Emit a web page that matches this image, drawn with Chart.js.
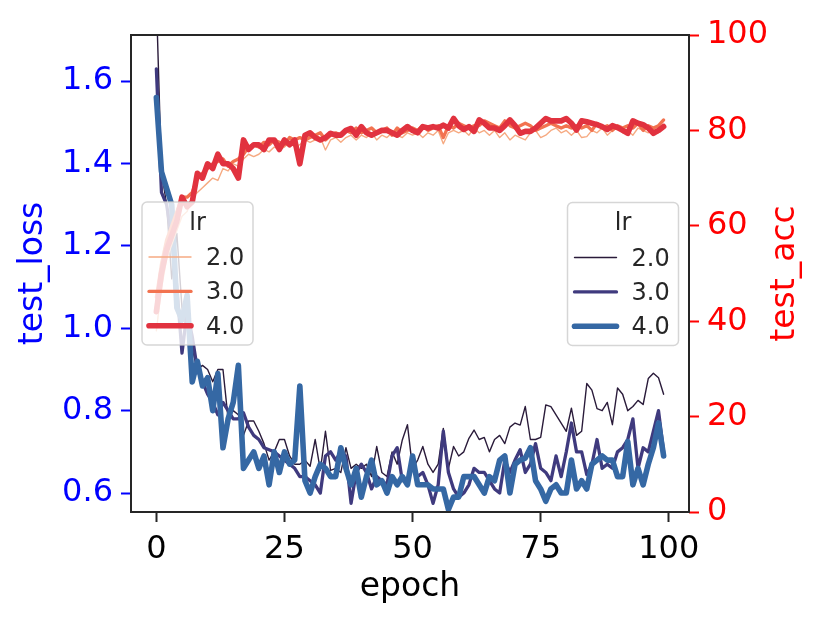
<!DOCTYPE html>
<html><head><meta charset="utf-8">
<script src="https://cdn.jsdelivr.net/npm/chart.js@4.4.0/dist/chart.umd.min.js"></script>
<style>html,body{margin:0;padding:0;background:#fff}canvas{display:block}</style>
</head><body>
<canvas id="c" width="830" height="623"></canvas>
<script>
const epochs = [0,1,2,3,4,5,6,7,8,9,10,11,12,13,14,15,16,17,18,19,20,21,22,23,24,25,26,27,28,29,30,31,32,33,34,35,36,37,38,39,40,41,42,43,44,45,46,47,48,49,50,51,52,53,54,55,56,57,58,59,60,61,62,63,64,65,66,67,68,69,70,71,72,73,74,75,76,77,78,79,80,81,82,83,84,85,86,87,88,89,90,91,92,93,94,95,96,97,98,99];
const lrLevels = ['2.0', '3.0', '4.0'];

const loss_lr2 = [1.80,1.38,1.30,1.12,1.23,1.05,1.00,0.95,0.90,0.91,
  0.90,0.87,0.90,0.90,0.78,0.80,0.79,0.74,0.775,0.775,
  0.75,0.72,0.68,0.70,0.73,0.73,0.69,0.67,0.67,0.68,
  0.665,0.73,0.655,0.75,0.655,0.66,0.65,0.71,0.66,0.67,
  0.66,0.67,0.64,0.713,0.65,0.64,0.70,0.67,0.729,0.766,
  0.66,0.68,0.713,0.67,0.65,0.67,0.757,0.66,0.713,0.69,
  0.70,0.733,0.753,0.73,0.735,0.70,0.73,0.74,0.72,0.76,
  0.77,0.765,0.81,0.73,0.73,0.735,0.814,0.81,0.79,0.77,
  0.75,0.806,0.74,0.75,0.866,0.85,0.805,0.80,0.82,0.766,
  0.855,0.84,0.80,0.81,0.825,0.815,0.878,0.891,0.88,0.84];
const loss_lr3 = [1.63,1.33,1.30,1.22,1.10,0.94,1.04,0.98,0.90,0.87,
  0.84,0.82,0.79,0.82,0.80,0.78,0.78,0.795,0.76,0.74,
  0.73,0.71,0.705,0.70,0.69,0.68,0.67,0.66,0.64,0.64,
  0.63,0.62,0.60,0.69,0.70,0.68,0.70,0.69,0.575,0.65,
  0.67,0.65,0.61,0.64,0.63,0.62,0.69,0.71,0.63,0.63,
  0.67,0.64,0.65,0.62,0.575,0.62,0.75,0.65,0.61,0.59,
  0.60,0.62,0.66,0.65,0.65,0.63,0.61,0.60,0.68,0.65,
  0.68,0.705,0.65,0.67,0.72,0.66,0.65,0.63,0.69,0.64,
  0.70,0.77,0.70,0.70,0.645,0.67,0.73,0.66,0.67,0.66,
  0.70,0.71,0.73,0.78,0.66,0.71,0.70,0.75,0.80,0.70];
const loss_lr4 = [1.56,1.38,1.34,1.30,1.05,1.02,1.08,0.87,0.92,0.86,
  0.88,0.80,0.89,0.71,0.78,0.82,0.91,0.66,0.68,0.70,
  0.66,0.69,0.62,0.70,0.65,0.70,0.67,0.68,0.86,0.63,
  0.60,0.64,0.67,0.66,0.64,0.64,0.71,0.66,0.62,0.66,
  0.59,0.64,0.68,0.62,0.63,0.60,0.64,0.62,0.64,0.62,
  0.69,0.62,0.62,0.62,0.61,0.61,0.61,0.56,0.59,0.59,
  0.64,0.64,0.64,0.62,0.60,0.64,0.63,0.68,0.69,0.60,
  0.67,0.68,0.685,0.71,0.63,0.61,0.58,0.61,0.62,0.60,
  0.60,0.68,0.61,0.63,0.61,0.67,0.68,0.69,0.68,0.68,
  0.64,0.64,0.725,0.62,0.66,0.62,0.67,0.71,0.77,0.69];

const acc_lr2 = [38,47,53,56,59,62,63,66,67,68,
  69,70,69.5,72,71.5,73,72.5,74,75,74.5,
  75,76,75.5,76.5,76,76.5,77.5,76.5,77,78,
  77.5,78,78.5,75.9,78,78.5,77.5,78.5,79,78,
  79,78.5,79.5,78,79,78.5,79.5,79,78.5,79.5,
  79,79.5,78.5,79.5,79,80,77.2,79.5,80,79.5,
  80,79,80.5,79.5,80,79,80,78.5,79.5,78,
  79,78.5,78,79.5,80,78.5,79,80,80.5,79.5,
  80,79,80,78.5,78.7,80,79.5,80.5,79,80,
  80.5,79.5,80,79,80.5,80,79.5,80.5,79.5,80.5];
const acc_lr3 = [45,52,57,60,63,66,66,67,70,71,
  72,73,73.5,74,72.5,73.5,74,75,76.5,77,
  76.5,77.5,77,78,77.5,77,78.5,78,78.5,78,
  78.5,79,79.5,78,79,79.5,79,80,79.5,80.5,
  79.5,80,80.5,79.5,80,80.5,79,80.5,79.5,80,
  80.5,80,81,80,80.5,81,78.5,81,80.5,81.5,
  81,80.5,81,81,82,81.5,81,80.5,82,81,
  80.5,81,81.5,81,80,80.5,81,81.5,81,80.5,
  81,80.5,81,80.5,81,80,81.5,80.5,81,80,
  81,80.5,81,80.5,81.5,80,81,80.5,81,82.2];
const acc_lr4 = [42,50,55,58,61,66,64,65,71,70,
  73,72,75,73,73,72,70,78,76,77,
  77,76,78,78,76,78,77,78,73,79,
  79.5,78.5,78,78.5,79.4,79,79,80,80.4,79,
  80.8,79.5,79,79.5,80,80,79.5,79,80,80.8,
  80,79.5,80.8,80.5,80.8,80.5,81.1,80.5,82.5,81,
  80.2,80.8,79.8,82.2,81.5,80.5,80.5,80,81,82.2,
  81,79.4,79.8,79.8,80.5,81.5,82.5,82,82,82,
  82.5,81.5,80.1,82,81.8,81.5,81.2,80.8,80.2,81,
  80.6,80,79.4,82,81.5,81.2,80.5,79.4,80,80.8];

const xTicks = [0, 25, 50, 75, 100];
const lossTicks = [0.6, 0.8, 1.0, 1.2, 1.4, 1.6];
const accTicks = [0, 20, 40, 60, 80, 100];

const FONT = "'DejaVu Sans', sans-serif";
const lossColors = ['#2a1b3a', '#3f3a7e', '#3568a4'];
const accColors = ['#f6aa82', '#f27350', '#e1323f'];
const lineWidths = [1.4, 3.3, 5.6];

function pts(arr) { return epochs.map((e, i) => ({x: e, y: arr[i]})); }

const lossSeries = [loss_lr2, loss_lr3, loss_lr4];
const accSeries = [acc_lr2, acc_lr3, acc_lr4];
const datasets = [];
lossSeries.forEach((s, i) => datasets.push({
  label: 'loss ' + lrLevels[i], data: pts(s), yAxisID: 'y', order: 6 - i,
  borderColor: lossColors[i], borderWidth: lineWidths[i], pointRadius: 0,
  tension: 0, borderJoinStyle: 'round', borderCapStyle: 'round', clip: 0, fill: false
}));
accSeries.forEach((s, i) => datasets.push({
  label: 'acc ' + lrLevels[i], data: pts(s), yAxisID: 'y1', order: 3 - i,
  borderColor: accColors[i], borderWidth: lineWidths[i], pointRadius: 0,
  tension: 0, borderJoinStyle: 'round', borderCapStyle: 'round', clip: 0, fill: false
}));

function roundRect(ctx, x, y, w, h, r) {
  ctx.beginPath();
  ctx.moveTo(x + r, y);
  ctx.lineTo(x + w - r, y); ctx.arcTo(x + w, y, x + w, y + r, r);
  ctx.lineTo(x + w, y + h - r); ctx.arcTo(x + w, y + h, x + w - r, y + h, r);
  ctx.lineTo(x + r, y + h); ctx.arcTo(x, y + h, x, y + h - r, r);
  ctx.lineTo(x, y + r); ctx.arcTo(x, y, x + r, y, r);
  ctx.closePath();
}

function drawLegend(ctx, x, y, colors) {
  const w = 111, h = 143;
  ctx.save();
  roundRect(ctx, x, y, w, h, 5);
  ctx.fillStyle = 'rgba(255,255,255,0.8)';
  ctx.fill();
  ctx.strokeStyle = 'rgba(204,204,204,0.8)';
  ctx.lineWidth = 1.5;
  ctx.stroke();
  ctx.font = '24px ' + FONT;
  ctx.fillStyle = '#262626';
  ctx.textAlign = 'center';
  ctx.textBaseline = 'alphabetic';
  ctx.fillText('lr', x + w / 2, y + 27.5);
  ctx.textAlign = 'left';
  lrLevels.forEach((lab, i) => {
    const yb = y + 63 + i * 34.4;
    ctx.beginPath();
    ctx.moveTo(x + 7, yb - 8);
    ctx.lineTo(x + 49, yb - 8);
    ctx.strokeStyle = colors[i];
    ctx.lineWidth = lineWidths[i];
    ctx.lineCap = 'round';
    ctx.stroke();
    ctx.fillStyle = '#262626';
    ctx.fillText(lab, x + 64, yb);
  });
  ctx.restore();
}

const decor = {
  id: 'decor',
  afterDatasetsDraw(chart) {
    const {ctx, chartArea: a} = chart;
    ctx.save();
    ctx.strokeStyle = '#262626';
    ctx.lineWidth = 2;
    ctx.strokeRect(a.left, a.top, a.right - a.left, a.bottom - a.top);
    ctx.restore();
  },
  afterDraw(chart) {
    const {ctx, chartArea: a} = chart;
    ctx.save();
    ctx.translate(785.5, (a.top + a.bottom) / 2);
    ctx.rotate(-Math.PI / 2);
    ctx.font = '33px ' + FONT;
    ctx.fillStyle = '#ff0000';
    ctx.textAlign = 'center';
    ctx.textBaseline = 'middle';
    ctx.fillText('test_acc', 0, 0);
    ctx.restore();
    drawLegend(ctx, 567.5, 202.5, lossColors);
    drawLegend(ctx, 142, 202, accColors);
  }
};

new Chart(document.getElementById('c'), {
  type: 'line',
  data: {datasets},
  options: {
    responsive: false,
    animation: false,
    events: [],
    layout: {padding: {top: 35, left: 0, right: 0, bottom: 0}},
    plugins: {legend: {display: false}, tooltip: {enabled: false}},
    scales: {
      x: {
        type: 'linear', position: 'bottom', min: -4.95, max: 103.95,
        afterBuildTicks: s => { s.ticks = xTicks.map(v => ({value: v})); },
        afterFit: s => { s.height = 111; },
        ticks: {font: {family: FONT, size: 32}, color: '#000', padding: 8, maxRotation: 0, autoSkip: false,
          callback: v => String(v)},
        grid: {display: true, drawOnChartArea: false, drawTicks: true, tickLength: 10, tickWidth: 2, tickColor: '#262626'},
        border: {display: false},
        title: {display: true, text: 'epoch', color: '#000', font: {family: FONT, size: 33}, padding: {top: 0, bottom: 16}}
      },
      y: {
        type: 'linear', position: 'left', min: 0.554, max: 1.712,
        afterBuildTicks: s => { s.ticks = lossTicks.map(v => ({value: v})); },
        afterFit: s => { s.width = 131; },
        ticks: {font: {family: FONT, size: 32}, color: '#0000ff', padding: 8, autoSkip: false,
          callback: v => v.toFixed(1)},
        grid: {display: true, drawOnChartArea: false, drawTicks: true, tickLength: 10, tickWidth: 2, tickColor: '#0000ff'},
        border: {display: false},
        title: {display: true, text: 'test_loss', color: '#0000ff', font: {family: FONT, size: 33}, padding: {top: 14, bottom: 0}}
      },
      y1: {
        type: 'linear', position: 'right', min: 0, max: 100,
        afterBuildTicks: s => { s.ticks = accTicks.map(v => ({value: v})); },
        afterFit: s => { s.width = 141; },
        ticks: {font: {family: FONT, size: 32}, color: '#ff0000', padding: 8, autoSkip: false,
          callback: v => String(v)},
        grid: {display: true, drawOnChartArea: false, drawTicks: true, tickLength: 10, tickWidth: 2, tickColor: '#ff0000'},
        border: {display: false},
        title: {display: false}
      }
    }
  },
  plugins: [decor]
});
</script>
</body></html>
